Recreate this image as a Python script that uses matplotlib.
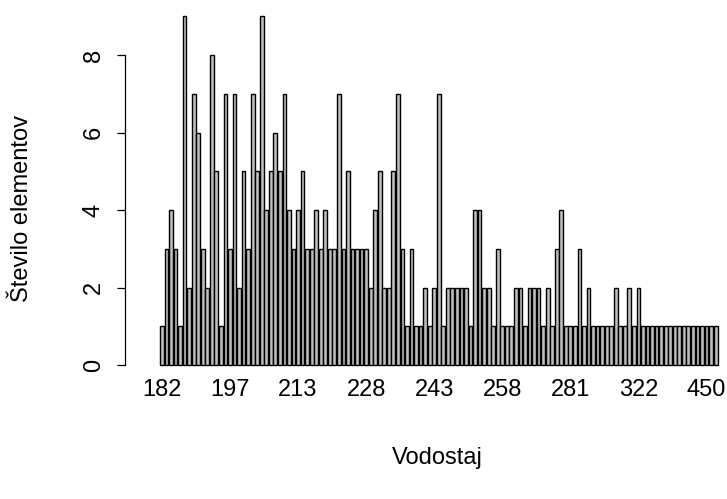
import matplotlib
matplotlib.use("Agg")
import matplotlib.pyplot as plt
import numpy as np

# frequency of each water level (one bar per distinct value)
counts = [
    1, 3, 4, 3, 1, 9, 2, 7, 6, 3, 2, 8, 5, 1, 7, 3, 7, 2, 5, 3,
    7, 5, 9, 4, 5, 6, 5, 7, 4, 3, 4, 5, 3, 3, 4, 3, 4, 3, 3,
    7,
    3, 5, 3, 3, 3, 3, 2, 4, 5, 2, 2, 5, 7, 3, 1, 3, 1, 1, 2,
    1, 2, 7, 1, 2, 2, 2, 2, 2, 1, 4, 4, 2, 2, 1, 3, 1, 1, 1,
    2, 2, 1, 2, 2, 2, 1, 2, 1, 3, 4, 1, 1, 1, 3, 1, 2, 1, 1, 1, 1,
    1, 2, 1, 1, 2, 1, 2, 1, 1, 1, 1, 1, 1, 1, 1, 1, 1, 1, 1, 1, 1, 1, 1, 1,
]
label_idx = [0, 15, 30, 45, 60, 75, 90, 105, 120]
label_txt = ["182", "197", "213", "228", "243", "258", "281", "322", "450"]
y_ticks = [0, 2, 4, 6, 8]

plt.rcParams["font.family"] = ["Liberation Sans", "DejaVu Sans"]
FS = 17

W, H = 727, 499
fig = plt.figure(figsize=(W / 100, H / 100), dpi=100)

# plot box in pixels (left, right, bottom, top)
pl, pr, pb, pt = 125, 727, 372, 5
ax = fig.add_axes([pl / W, 1 - pb / H, (pr - pl) / W, (pb - pt) / H])

n = len(counts)
x = 0.7 + 1.2 * np.arange(n)
ax.bar(x, counts, width=1.0, color="#bebebe", edgecolor="black", linewidth=1.0)

# bars run from px 160 to px 717.5, y=0 at px 365, y=8 at px 55
sx = (717.5 - 160) / (1.2 * n - 0.2)
ax.set_xlim(0.2 - (160 - pl) / sx, 1.2 * n + (pr - 717.5) / sx)
sy = (365 - 55) / 8
ax.set_ylim(-(pb - 365) / sy, 8 + (55 - pt) / sy)

for side in ["top", "right", "bottom"]:
    ax.spines[side].set_visible(False)
ax.spines["left"].set_bounds(0, 8)
ax.spines["left"].set_linewidth(0.9)

ax.set_yticks(y_ticks)
ax.set_yticklabels([str(v) for v in y_ticks], rotation=90, va="center")
ax.tick_params(axis="y", length=5.5, width=0.9, pad=9, labelsize=FS)

ax.set_xticks([x[i] for i in label_idx])
ax.set_xticklabels(label_txt)
ax.tick_params(axis="x", length=0, pad=5, labelsize=FS)

fig.text(437 / W, 1 - 458 / H, "Vodostaj", ha="center", va="center", fontsize=FS)
fig.text(22 / W, 1 - 208 / H, "Število elementov", ha="center", va="center",
         rotation=90, fontsize=FS)

fig.savefig("out.png", dpi=100)
